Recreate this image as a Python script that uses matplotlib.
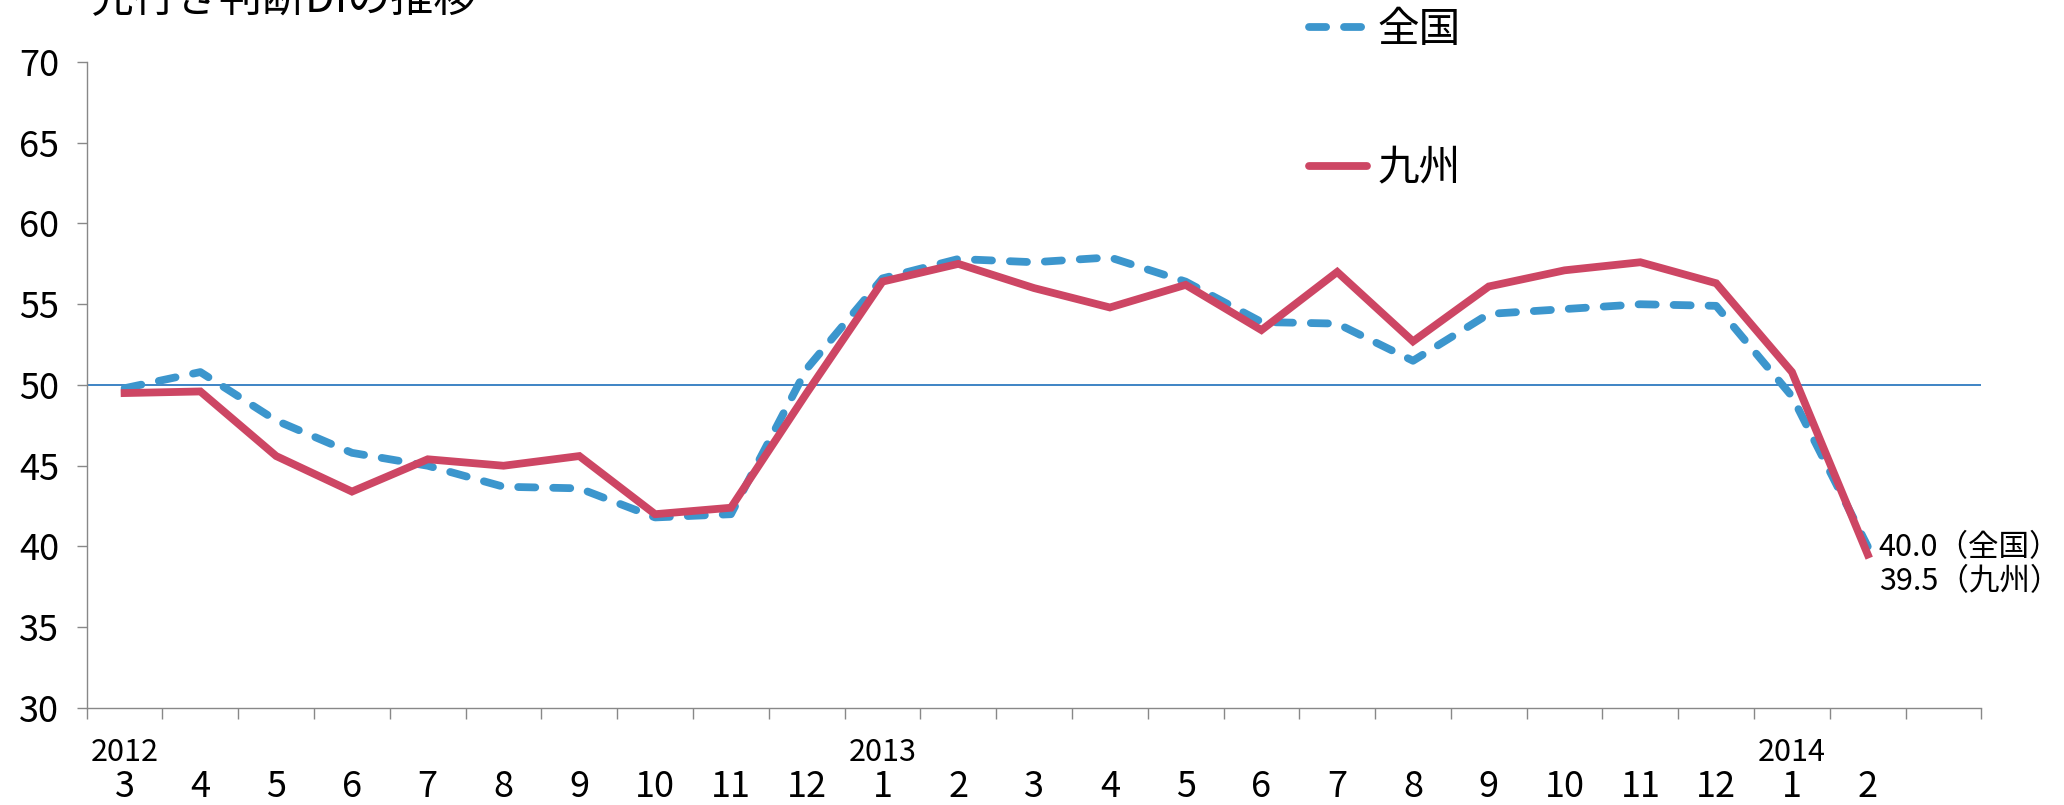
import matplotlib
matplotlib.use("Agg")
import matplotlib.pyplot as plt
from matplotlib.lines import Line2D
from matplotlib.ticker import FixedLocator

JP = ["Liberation Sans Narrow", "Noto Sans CJK JP", "DejaVu Sans"]
plt.rcParams["font.family"] = JP

# 先行き判断DI (2012/3 ~ 2014/2)
months = ["3", "4", "5", "6", "7", "8", "9", "10", "11", "12", "1", "2",
          "3", "4", "5", "6", "7", "8", "9", "10", "11", "12", "1", "2"]
years = {0: "2012", 10: "2013", 22: "2014"}
national = [49.8, 50.8, 47.8, 45.8, 45.0, 43.7, 43.6, 41.8, 42.0, 51.0, 56.6, 57.8,
            57.6, 57.9, 56.4, 53.9, 53.8, 51.5, 54.4, 54.7, 55.0, 54.9, 49.3, 40.0]
kyushu = [49.5, 49.6, 45.6, 43.4, 45.4, 45.0, 45.6, 42.0, 42.4, 49.5, 56.4, 57.5,
          56.0, 54.8, 56.2, 53.4, 57.0, 52.7, 56.1, 57.1, 57.6, 56.3, 50.8, 39.5]

BLUE = "#3C96CD"
RED = "#CD4664"
DASH = (0, (2.2, 2.3))

fig = plt.figure(figsize=(20.64, 8.05), dpi=100)
ax = fig.add_axes([0.042, 0.1205, 0.918, 0.8025])

x = list(range(len(months)))
ax.axhline(50, color="#2F7BC0", lw=1.3, zorder=1)
ax.plot(x, national, color=BLUE, lw=5.6, ls=DASH,
        dash_capstyle="round", solid_capstyle="round", zorder=2)
ax.plot(x, kyushu, color=RED, lw=5.6, solid_joinstyle="miter", zorder=3)

ax.set_xlim(-0.5, len(months) + 0.5)
ax.set_ylim(30, 70)
ax.set_yticks(range(30, 71, 5))
ax.tick_params(axis="y", length=7, width=1, color="#888888", pad=13, labelsize=26)
ax.set_xticks(x)
ax.set_xticklabels(months)
ax.xaxis.set_minor_locator(FixedLocator([i - 0.5 for i in range(len(months) + 2)]))
ax.tick_params(axis="x", which="major", length=0, pad=44, labelsize=26)
ax.tick_params(axis="x", which="minor", length=8, width=1, color="#888888")
for s in ("top", "right"):
    ax.spines[s].set_visible(False)
for s in ("left", "bottom"):
    ax.spines[s].set_color("#888888")
    ax.spines[s].set_linewidth(1)

for i, y in years.items():
    ax.annotate(y, xy=(i, 0), xycoords=("data", "axes fraction"),
                xytext=(0, -32), textcoords="offset points",
                ha="center", va="center", fontsize=22)

ax.annotate(f"{national[-1]:.1f}（全国）\n{kyushu[-1]:.1f}（九州）",
            xy=(x[-1], kyushu[-1]), xytext=(8, -7), textcoords="offset points",
            ha="left", va="center", fontsize=22, linespacing=1.12)

handles = [Line2D([], [], color=BLUE, lw=5.6, ls=DASH, dash_capstyle="round"),
           Line2D([], [], color=RED, lw=5.6, solid_capstyle="round")]
fig.legend(handles, ["全国", "九州"], loc="upper left", bbox_to_anchor=(0.634, 0.988),
           frameon=False, fontsize=30, handlelength=1.4, handletextpad=0.25,
           labelspacing=2.35, borderpad=0, borderaxespad=0)

# 原図と同じく上端で切れたタイトル
fig.text(0.044, 1.0, "先行き判断DIの推移", fontsize=31, ha="left", va="center")

fig.savefig("out.png", dpi=100)
